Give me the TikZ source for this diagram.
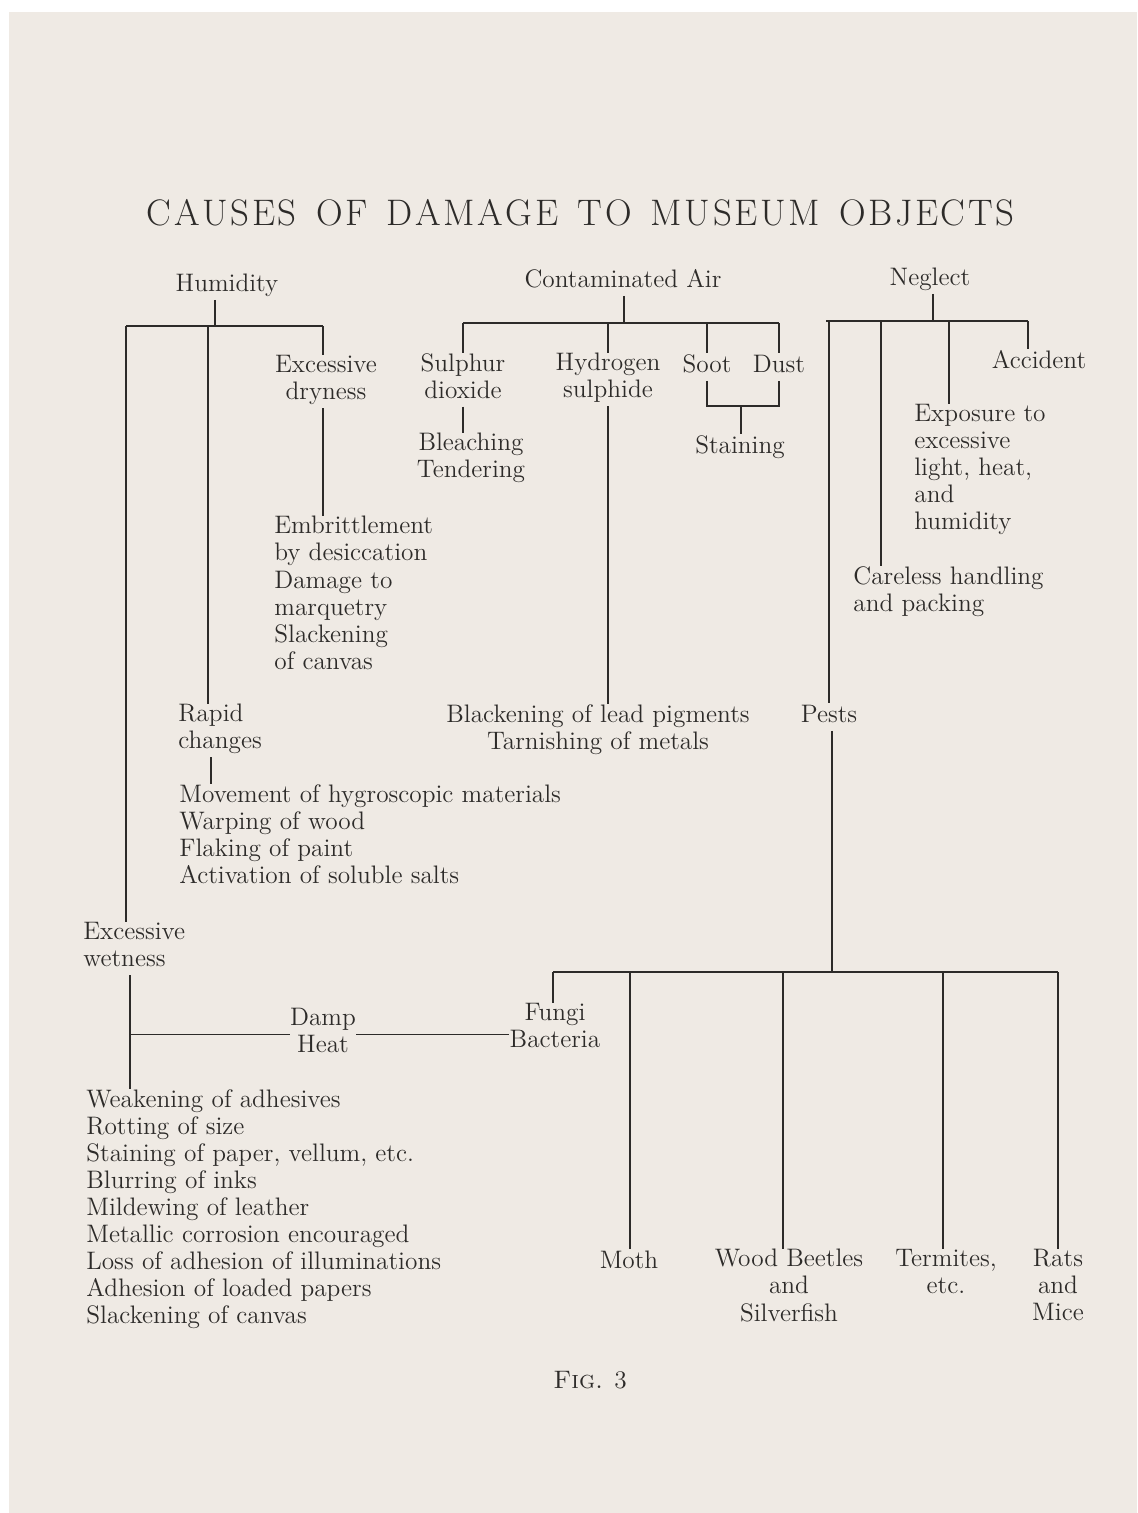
\documentclass[tikz,border=0pt]{standalone}
\usepackage{fontspec}
\usepackage{tikz}

\definecolor{paper}{RGB}{239,234,228}
\definecolor{ink}{RGB}{45,43,41}

% letter-spaced capitals for the heading
\makeatletter
\newcommand\spacedword[1]{\@tfor\ch:=#1\do{\ch\kern1.5pt}}
\makeatother

\begin{document}
\begin{tikzpicture}[x=0.2mm, y=-0.2mm,
    every node/.style={inner sep=0pt, text=ink, align=center,
      font=\fontsize{14.4}{15.4}\selectfont,
      execute at begin node=\strut, execute at end node=\strut},
    item/.style={anchor=north},
    list/.style={anchor=north west, align=left},
    link/.style={draw=ink, line width=0.8pt}
  ]

  % page
  \useasboundingbox (0,0) rectangle (1137,1513);
  \fill[white] (0,0) rectangle (1137,1513);
  \fill[paper] (9,12) rectangle (1137,1513);

  \node[anchor=base, font=\fontsize{21}{24}\selectfont]
    (title) at (582,225) {\spacedword{CAUSES}\hspace{0.45em}\spacedword{OF}\hspace{0.45em}\spacedword{DAMAGE}\hspace{0.45em}\spacedword{TO}\hspace{0.45em}\spacedword{MUSEUM}\hspace{0.45em}\spacedword{OBJECTS}};

  % three main causes
  \node[item] (hum)  at (227,272) {Humidity};
  \node[item] (air)  at (623,268) {Contaminated Air};
  \node[item] (negl) at (930,266) {Neglect};

  % humidity branch
  \node[item] (dry)   at (326,355) {Excessive\\dryness};
  \node[list] (embr)  at (274,516) {Embrittlement\\by desiccation\\Damage to\\marquetry\\Slackening\\of canvas};
  \node[list] (rapid) at (178,704) {Rapid\\changes};
  \node[list] (move)  at (179,784) {Movement of hygroscopic materials\\Warping of wood\\Flaking of paint\\Activation of soluble salts};
  \node[list] (wet)   at (83,922) {Excessive\\wetness};
  \node[item] (damp)  at (323,1008) {Damp\\Heat};
  \node[list] (weak)  at (86,1089) {Weakening of adhesives\\Rotting of size\\Staining of paper, vellum, etc.\\Blurring of inks\\Mildewing of leather\\Metallic corrosion encouraged\\Loss of adhesion of illuminations\\Adhesion of loaded papers\\Slackening of canvas};

  % contaminated air branch
  \node[item] (so2)    at (463,353) {Sulphur\\dioxide};
  \node[item] (h2s)    at (608,353) {Hydrogen\\sulphide};
  \node[item] (soot)   at (707,353) {Soot};
  \node[item] (dust)   at (779,353) {Dust};
  \node[item] (bleach) at (471,433) {Bleaching\\Tendering};
  \node[item] (stain)  at (740,434) {Staining};
  \node[item] (black)  at (598,704) {Blackening of lead pigments\\Tarnishing of metals};

  % neglect branch
  \node[item] (acc)   at (1039,349) {Accident};
  \node[list] (expo)  at (914,404) {Exposure to\\excessive\\light, heat,\\and\\humidity};
  \node[list] (care)  at (853,566) {Careless handling\\and packing};
  \node[item] (pests) at (829,703) {Pests};
  \node[item] (fungi) at (555,1003) {Fungi\\Bacteria};
  \node[item] (moth)  at (629,1249) {Moth};
  \node[item] (wood)  at (789,1249) {Wood Beetles\\and\\Silverfish};
  \node[item] (term)  at (946,1249) {Termites,\\etc.};
  \node[item] (rats)  at (1058,1249) {Rats\\and\\Mice};

  \node[anchor=base] (fig) at (590,1388) {\textsc{Fig.} 3};

  % humidity connectors
  \coordinate (hbar) at (215,326);
  \coordinate (hl) at (126,326);
  \coordinate (hm) at (208,326);
  \coordinate (hr) at (323,326);
  \coordinate (rc) at (211,0);
  \coordinate (wl) at (130,0);
  \draw[link] (hum.south -| hbar) -- (hbar);
  \draw[link] (hl) -- (hr);
  \draw[link] (hl) -- (wet.north -| hl);
  \draw[link] (hm) -- (rapid.north -| hm);
  \draw[link] (hr) -- (dry.north -| hr);
  \draw[link] (dry.south -| hr) -- (embr.north -| hr);
  \draw[link] (rapid.south -| rc) -- (move.north -| rc);
  \draw[link] (wet.south -| wl) -- (weak.north -| wl);
  \draw[link] (damp.west -| wl) -- (damp.west);
  \draw[link] (damp.east) -- (damp.east -| fungi.west);

  % contaminated air connectors
  \coordinate (abar) at (624,323);
  \coordinate (sbar) at (741,406);
  \draw[link] (air.south -| abar) -- (abar);
  \draw[link] (so2.north |- abar) -- (dust.north |- abar);
  \foreach \n in {so2,h2s,soot,dust}
    \draw[link] (\n.north |- abar) -- (\n.north);
  \draw[link] (so2.south) -- (so2.south |- bleach.north);
  \draw[link] (soot.south) -- (soot.south |- sbar) -- (dust.south |- sbar) -- (dust.south);
  \draw[link] (sbar) -- (stain.north -| sbar);
  \draw[link] (h2s.south) -- (h2s.south |- black.north);

  % neglect connectors
  \coordinate (nbar) at (933,321);
  \coordinate (nl) at (826,321);
  \coordinate (nc) at (881,321);
  \coordinate (ne) at (949,321);
  \coordinate (nr) at (1028,321);
  \draw[link] (negl.south -| nbar) -- (nbar);
  \draw[link] (nl) -- (nr);
  \draw[link] (pests.north |- nl) -- (pests.north);
  \draw[link] (nc) -- (care.north -| nc);
  \draw[link] (ne) -- (expo.north -| ne);
  \draw[link] (nr) -- (acc.north -| nr);

  % pests
  \coordinate (pbar) at (832,972);
  \coordinate (pl) at (553,972);
  \coordinate (pr) at (1058,972);
  \draw[link] (pests.south -| pbar) -- (pbar);
  \draw[link] (pl) -- (pr);
  \draw[link] (pl) -- (fungi.north -| pl);
  \foreach \n/\x in {moth/630, wood/783, term/943, rats/1058} {
    \coordinate (d\n) at (\x,972);
    \draw[link] (d\n) -- (\n.north -| d\n);
  }

\end{tikzpicture}
\end{document}
